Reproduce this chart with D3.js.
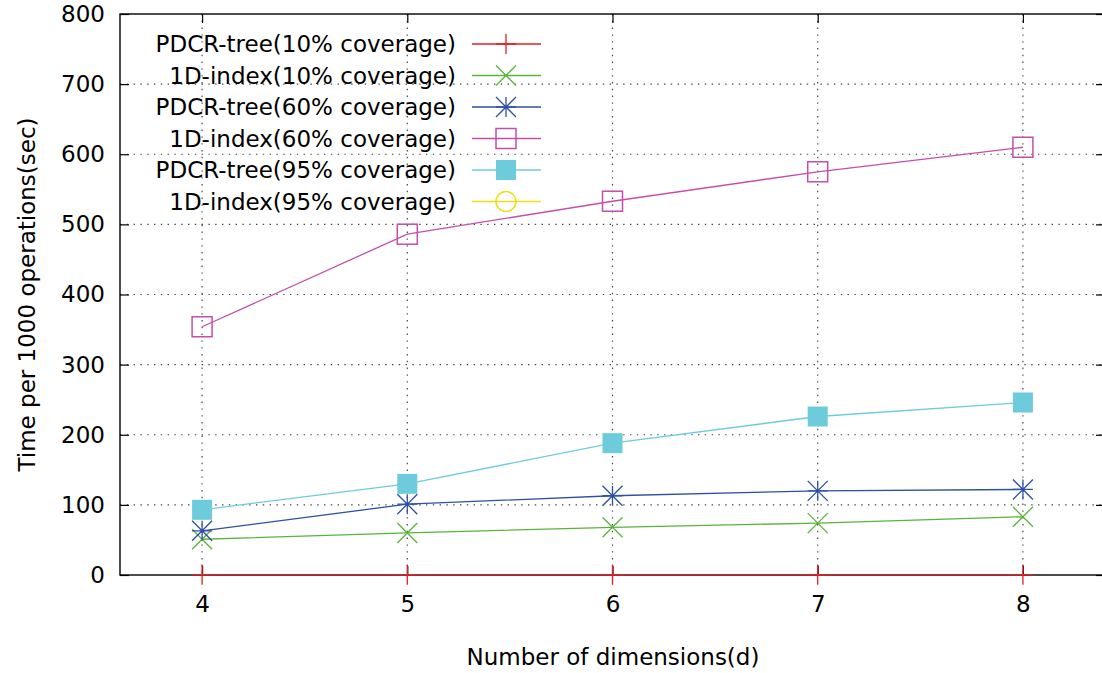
<!DOCTYPE html>
<html><head><meta charset="utf-8">
<script src="https://cdn.jsdelivr.net/npm/d3@7"></script>
<style>
html,body{margin:0;padding:0;background:#fff;}
svg{display:block;}
text{font-family:"DejaVu Sans",sans-serif;fill:#000;}
</style></head>
<body>
<svg id="chart" width="1102" height="673"></svg>
<script>
const dims = [4, 5, 6, 7, 8];
const seriesNames = [
  "PDCR-tree(10% coverage)",
  "1D-index(10% coverage)",
  "PDCR-tree(60% coverage)",
  "1D-index(60% coverage)",
  "PDCR-tree(95% coverage)",
  "1D-index(95% coverage)"
];
const pdcr10 = [0.5, 0.5, 0.5, 0.5, 0.5];
const idx10 = [51, 60, 68, 74, 83];
const pdcr60 = [63, 101, 113, 120, 122];
const idx60 = [354, 486, 533, 575, 610];
const pdcr95 = [93, 130, 188, 226, 246];
const idx95 = [];
const yTicks = [0, 100, 200, 300, 400, 500, 600, 700, 800];
const xTicks = [4, 5, 6, 7, 8];
const colors = ["#e51e25", "#5ab43c", "#2e4fa5", "#c34fa8", "#6dcbdb", "#f0dc1a"];
const markers = ["plus", "cross", "star", "square", "fsquare", "circle"];
const allValues = [pdcr10, idx10, pdcr60, idx60, pdcr95, idx95];

const FS = 23;
const svg = d3.select("#chart");
const L = 120, R = 1105, T = 14, B = 575;
const x = d3.scaleLinear().domain([3.6, 8.4]).range([L, R]);
const y = d3.scaleLinear().domain([0, 800]).range([B, T]);

// grid
const grid = svg.append("g").attr("stroke", "#444").attr("stroke-width", 1.2).attr("stroke-dasharray", "1.4,5.4");
grid.selectAll(".gy").data(yTicks.slice(1, -1)).enter().append("line")
  .attr("x1", L).attr("x2", R).attr("y1", d => y(d)).attr("y2", d => y(d));
grid.selectAll(".gx").data(xTicks).enter().append("line")
  .attr("x1", d => x(d)).attr("x2", d => x(d)).attr("y1", T).attr("y2", B);

// axes with inward ticks
const yAxis = svg.append("g").attr("transform", `translate(${L},0)`)
  .call(d3.axisLeft(y).tickValues(yTicks).tickSize(-9).tickPadding(15).tickFormat(d3.format("d")));
const yAxisR = svg.append("g").attr("transform", `translate(${R},0)`)
  .call(d3.axisRight(y).tickValues(yTicks).tickSize(-9).tickFormat(""));
const xAxis = svg.append("g").attr("transform", `translate(0,${B})`)
  .call(d3.axisBottom(x).tickValues(xTicks).tickSize(-9).tickPadding(21).tickFormat(d3.format("d")));
const xAxisT = svg.append("g").attr("transform", `translate(0,${T})`)
  .call(d3.axisTop(x).tickValues(xTicks).tickSize(-9).tickFormat(""));
[yAxis, yAxisR, xAxis, xAxisT].forEach(g => {
  g.select(".domain").remove();
  g.selectAll(".tick line").attr("stroke", "#000").attr("stroke-width", 1.2);
  g.selectAll("text").attr("font-size", FS).attr("font-family", "DejaVu Sans, sans-serif");
});
// border
svg.append("rect").attr("x", L).attr("y", T).attr("width", R - L).attr("height", B - T)
  .attr("fill", "none").attr("stroke", "#000").attr("stroke-width", 1.4);

// labels
svg.append("text").attr("x", 613).attr("y", 665).attr("text-anchor", "middle")
  .attr("font-size", FS).text("Number of dimensions(d)");
svg.append("text").attr("transform", `translate(35,${(T + B) / 2}) rotate(-90)`).attr("text-anchor", "middle")
  .attr("font-size", FS).text("Time per 1000 operations(sec)");

function drawMarker(g, type, cx, cy, color) {
  const s = 10;
  if (type === "plus") {
    g.append("path").attr("d", `M${cx - s},${cy}H${cx + s}M${cx},${cy - s}V${cy + s}`).attr("stroke", color).attr("stroke-width", 1.3).attr("fill", "none");
  } else if (type === "cross") {
    g.append("path").attr("d", `M${cx - s},${cy - s}L${cx + s},${cy + s}M${cx - s},${cy + s}L${cx + s},${cy - s}`).attr("stroke", color).attr("stroke-width", 1.3).attr("fill", "none");
  } else if (type === "star") {
    g.append("path").attr("d", `M${cx - s},${cy}H${cx + s}M${cx},${cy - s}V${cy + s}M${cx - s},${cy - s}L${cx + s},${cy + s}M${cx - s},${cy + s}L${cx + s},${cy - s}`).attr("stroke", color).attr("stroke-width", 1.3).attr("fill", "none");
  } else if (type === "square") {
    g.append("rect").attr("x", cx - s).attr("y", cy - s).attr("width", 2 * s).attr("height", 2 * s).attr("stroke", color).attr("stroke-width", 1.5).attr("fill", "none");
  } else if (type === "fsquare") {
    g.append("rect").attr("x", cx - s).attr("y", cy - s).attr("width", 2 * s).attr("height", 2 * s).attr("fill", color);
  } else if (type === "circle") {
    g.append("circle").attr("cx", cx).attr("cy", cy).attr("r", s).attr("stroke", color).attr("stroke-width", 1.5).attr("fill", "none");
  }
}

const line = d3.line().x(d => x(d[0])).y(d => y(d[1]));
allValues.forEach((vals, i) => {
  const pts = vals.map((v, j) => [dims[j], v]);
  const g = svg.append("g");
  if (pts.length) {
    g.append("path").attr("d", line(pts)).attr("fill", "none").attr("stroke", colors[i]).attr("stroke-width", 1.3);
    pts.forEach(p => drawMarker(g, markers[i], x(p[0]), y(p[1]), colors[i]));
  }
});

// legend
const legY0 = 44, legDy = 31.5;
seriesNames.forEach((name, i) => {
  const ly = legY0 + i * legDy;
  const g = svg.append("g");
  g.append("text").attr("x", 456).attr("y", ly + 8).attr("text-anchor", "end").attr("font-size", FS).text(name);
  g.append("line").attr("x1", 472).attr("x2", 541).attr("y1", ly).attr("y2", ly).attr("stroke", colors[i]).attr("stroke-width", 1.3);
  drawMarker(g, markers[i], 506, ly, colors[i]);
});
</script>
</body></html>
